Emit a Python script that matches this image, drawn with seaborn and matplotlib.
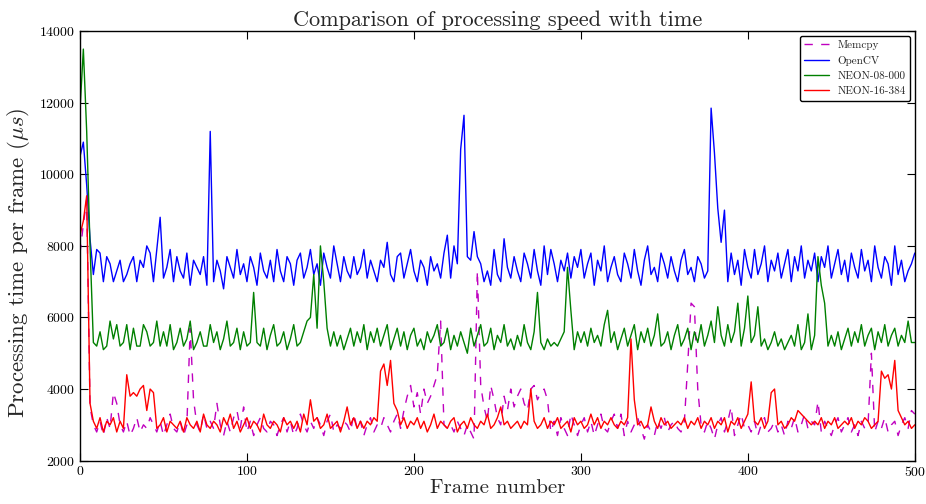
import numpy as np
import pandas as pd
import matplotlib
matplotlib.use("Agg")
import matplotlib.pyplot as plt
import seaborn as sns

# processing time per frame (us), sampled every 2 frames (0..500)
memcpy = [
    7800, 8600, 9300, 3500, 3000, 2800, 3100, 2700, 3200, 2900,
    3900, 3600, 3000, 2800, 3100, 2700, 2900, 3200, 2800, 3000,
    2900, 3200, 3000, 2800, 3100, 2700, 3000, 3300, 2900, 2800,
    3100, 2700, 3000, 5700, 3700, 3000, 2800, 3300, 2900, 3100,
    2900, 3600, 3000, 2700, 3100, 2800, 3200, 3400, 2900, 3500,
    2800, 3100, 2700, 3000, 3200, 2900, 2800, 3100, 3000, 2700,
    3000, 3200, 2800, 3100, 2700, 2900, 3300, 3000, 2800, 3100,
    2900, 3200, 3000, 2700, 3100, 3300, 2800, 3000, 2900, 3100,
    3000, 2800, 3300, 2900, 3100, 2700, 3000, 3200, 2800, 3000,
    2900, 3200, 3000, 2800, 3100, 3300, 2900, 3400, 3800, 4100,
    3500, 3900, 3300, 4000, 3600, 3800, 4100, 4400, 5900, 3000,
    2900, 3000, 2800, 3100, 2900, 2700, 3000, 2800, 2600, 7300,
    4100, 3500, 3100, 4100, 3700, 3200, 3000, 3800, 3400, 4000,
    3500, 3800, 4000, 3600, 3400, 4000, 4100, 3700, 3900, 4000,
    3700, 2800, 3100, 2700, 3200, 2900, 2700, 3300, 3000, 2700,
    3000, 3200, 2800, 3100, 2700, 3000, 3300, 2900, 2800, 3100,
    3300, 2900, 3300, 2700, 3100, 2800, 3000, 3200, 2900, 2600,
    3000, 2800, 2700, 3100, 2900, 3200, 2800, 3000, 3100, 2900,
    2800, 3100, 4700, 6400, 6300, 4000, 3000, 2800, 3100, 2900,
    2600, 3000, 3200, 2800, 3100, 3500, 2700, 3000, 3300, 2900,
    3000, 2800, 3100, 2700, 3000, 3200, 2800, 2900, 3100, 2800,
    3000, 2700, 3100, 2900, 3200, 2800, 3000, 3300, 2900, 3100,
    3000, 3650, 2800, 3100, 2900, 2700, 3000, 3200, 2800, 3000,
    3200, 2800, 3000, 2700, 3100, 2900, 3000, 5000, 2800, 3100,
    2900, 3200, 2800, 3000, 3100, 2700, 3000, 3200, 2900, 3400,
    3300,
]

opencv = [
    10500, 10900, 9700, 8200, 7200, 7900, 7800, 7000, 7700, 7500,
    7000, 7300, 7600, 7000, 7200, 7500, 7700, 7000, 7600, 7400,
    8000, 7800, 7000, 7900, 8800, 7100, 7400, 7900, 7000, 7700,
    7300, 7100, 7800, 6900, 7600, 7400, 7200, 7700, 6900, 11200,
    7000, 7600, 7300, 6800, 7700, 7400, 7100, 7900, 7200, 7500,
    7000, 7700, 7400, 6900, 7800, 7300, 7100, 7600, 7000, 7900,
    7300, 7000, 7700, 7500, 6900, 7600, 7800, 7100, 7400, 7900,
    7200, 7500, 6900, 7800, 7400, 7100, 8000, 7500, 7000, 7700,
    7300, 7100, 7700, 7200, 7400, 7900, 7100, 7600, 7300, 7000,
    7600, 7400, 8100, 7200, 7000, 7700, 7800, 7100, 7500, 7900,
    7300, 7000, 7600, 7400, 6900, 7700, 7300, 7500, 7100, 7800,
    8300, 7100, 8000, 7500, 10700, 11650, 7700, 7600, 8400, 7700,
    7500, 7000, 7300, 6900, 7900, 7200, 7000, 8200, 7400, 7100,
    7700, 7300, 7000, 7800, 7500, 7100, 7900, 7300, 6900, 8000,
    7200, 7900, 7500, 7000, 7600, 7300, 7800, 7100, 7700, 7400,
    7900, 7100, 7500, 7800, 6900, 7600, 7300, 8000, 7000, 7400,
    7700, 7200, 7000, 7800, 7500, 7100, 7900, 7300, 6900, 7600,
    8000, 7200, 7400, 7000, 7800, 7500, 7100, 7700, 7300, 7000,
    7600, 7900, 7200, 7400, 7000, 7700, 7500, 7100, 7300, 11850,
    10600, 9050, 8100, 9000, 7000, 7800, 7200, 7600, 6900, 7900,
    7400, 7100, 7900, 7200, 7500, 8000, 7000, 7600, 7300, 7800,
    7100, 7500, 7900, 7000, 7700, 7300, 8000, 7100, 7600, 7300,
    7800, 7000, 7700, 7400, 8000, 7100, 7500, 7900, 7200, 7600,
    7000, 7800, 7400, 7100, 7900, 7300, 7600, 7000, 8000, 7400,
    7100, 7700, 7500, 6900, 8000, 7200, 7600, 7000, 7300, 7500,
    7800,
]

neon_08 = [
    11800, 13500, 11200, 8000, 5300, 5200, 5600, 5100, 5200, 5900,
    5400, 5800, 5200, 5300, 5800, 5100, 5700, 5200, 5200, 5800,
    5600, 5200, 5300, 5900, 5200, 5600, 5200, 5800, 5100, 5300,
    5700, 5200, 5400, 5900, 5100, 5300, 5600, 5200, 5200, 5800,
    5300, 5600, 5100, 5400, 5900, 5200, 5300, 5700, 5100, 5600,
    5200, 5300, 6700, 5300, 5200, 5700, 5100, 5500, 5800, 5200,
    5300, 5600, 5100, 5400, 5800, 5200, 5300, 5600, 5900, 6000,
    7200, 5700, 8000, 7000, 5700, 5200, 5600, 5200, 5500, 5100,
    5400, 5700, 5200, 5600, 5300, 5800, 5100, 5600, 5300, 5700,
    5200, 5500, 5800, 5100, 5400, 5700, 5200, 5600, 5100, 5500,
    5700, 5200, 5400, 5100, 5600, 5300, 5500, 5800, 5200, 5300,
    5700, 5100, 5500, 5200, 5600, 5300, 5000, 5700, 5200, 5500,
    5800, 5200, 5300, 5700, 5100, 5500, 5300, 5800, 5200, 5400,
    5100, 5500, 5200, 5800, 5300, 5100, 5600, 6700, 5300, 5100,
    5400, 5200, 5300, 5200, 5400, 5600, 7400, 6200, 5100, 5600,
    5300, 5600, 5200, 5700, 5300, 5500, 5200, 5800, 6200, 5300,
    5600, 5100, 5400, 5700, 5200, 5500, 5800, 5100, 5600, 5300,
    5700, 5200, 5500, 6100, 5200, 5300, 5600, 5100, 5500, 5800,
    5200, 5400, 5700, 5100, 5600, 5300, 5800, 5200, 5500, 5900,
    5300, 6300, 5500, 5200, 5800, 5300, 5600, 6400, 5200, 5700,
    6600, 5300, 5500, 6300, 5200, 5400, 5100, 5300, 5600, 5200,
    5400, 5100, 5300, 5500, 5200, 5800, 5100, 5300, 6100, 5100,
    5500, 7700, 6900, 6400, 5200, 5500, 5200, 5600, 5100, 5400,
    5700, 5200, 5600, 5300, 5800, 5200, 5500, 5700, 5100, 5600,
    5300, 5800, 5200, 5500, 5700, 5200, 5500, 5300, 5900, 5300,
    5300,
]

neon_16 = [
    8300, 8700, 9400, 3600, 3100, 2900, 3200, 2800, 3100, 3000,
    3200, 2800, 3100, 2900, 4400, 3800, 3900, 3800, 4000, 4100,
    3400, 4000, 3900, 2900, 3000, 3200, 2800, 3100, 3000, 2900,
    3100, 2800, 3200, 3000, 2900, 3100, 2800, 3300, 3000, 2900,
    3100, 3000, 2800, 3200, 3000, 3300, 2900, 3100, 2800, 3000,
    3200, 2900, 3100, 3000, 2800, 3300, 3000, 2900, 3100, 3000,
    2800, 3200, 3000, 3100, 2900, 3100, 2800, 3300, 3000, 3700,
    3100, 3200, 2900, 3000, 3300, 2900, 3000, 3100, 2800, 3100,
    3500, 3000, 3200, 2900, 3100, 2900, 3100, 3000, 3200, 3100,
    4500, 4700, 4100, 4800, 3600, 3400, 3000, 3200, 2900, 3100,
    3000, 3200, 2900, 3100, 2800, 3000, 3300, 2900, 3100, 3000,
    2900, 3100, 3200, 2800, 3000, 3100, 2900, 3200, 3000, 2900,
    3100, 3000, 3300, 2900, 3000, 3200, 3500, 3000, 3100, 2900,
    3000, 3100, 2900, 3100, 3000, 4000, 3100, 2900, 3000, 3200,
    2900, 3100, 3000, 3200, 2900, 3000, 3100, 2800, 3200, 3000,
    3100, 2900, 3000, 3300, 3000, 3200, 2900, 3100, 3000, 3200,
    3000, 2900, 3100, 3000, 3200, 5400, 3700, 3000, 3100, 2900,
    3000, 3500, 3100, 2900, 3200, 3000, 3100, 2900, 3000, 3100,
    3000, 3200, 2900, 3100, 3000, 3200, 2900, 3100, 3000, 3200,
    2900, 3100, 3000, 3200, 2800, 3100, 3000, 3200, 2900, 3100,
    3300, 4200, 3100, 3000, 3200, 2900, 3100, 3900, 4000, 3000,
    3100, 2900, 3000, 3200, 3100, 3400, 3300, 3200, 3100, 3000,
    3100, 3000, 3200, 2900, 3100, 3000, 3200, 2900, 3000, 3100,
    3000, 3200, 2900, 3100, 3000, 3200, 3100, 2900, 3000, 3100,
    4500, 4300, 4400, 4000, 4800, 3400, 3200, 3000, 3100, 2900,
    3000,
]

series_names = ["Memcpy", "OpenCV", "NEON-08-000", "NEON-16-384"]
series_values = [memcpy, opencv, neon_08, neon_16]
colors = ["#bf00bf", "#0000ff", "#008000", "#ff0000"]
styles = ["--", "-", "-", "-"]

sns.set_style("ticks")
plt.rcParams["font.family"] = ["cmr10", "DejaVu Serif"]
plt.rcParams["mathtext.fontset"] = "cm"
plt.rcParams["axes.formatter.use_mathtext"] = True
plt.rcParams["xtick.direction"] = "in"
plt.rcParams["ytick.direction"] = "in"
plt.rcParams["xtick.top"] = True
plt.rcParams["ytick.right"] = True
plt.rcParams["lines.dashed_pattern"] = [6, 6]

fig = plt.figure(figsize=(9.26, 5.04), dpi=100)
ax = fig.add_axes([0.0864, 0.0861, 0.9015, 0.852])

for name, vals, c, ls in zip(series_names, series_values, colors, styles):
    df = pd.DataFrame({"frame": np.arange(len(vals)) * 2, "time": vals})
    sns.lineplot(data=df, x="frame", y="time", color=c, linestyle=ls,
                 linewidth=1.0, label=name, ax=ax)

ax.set_xlim(0, 500)
ax.set_ylim(2000, 14000)
ax.set_xticks(range(0, 501, 100))
ax.set_yticks(range(2000, 14001, 2000))
ax.tick_params(labelsize=10, length=6, width=0.8, colors="black")
for s in ax.spines.values():
    s.set_color("black")
    s.set_linewidth(1.0)

ax.set_title("Comparison of processing speed with time", fontsize=16, pad=4)
ax.set_xlabel("Frame number", fontsize=15, labelpad=0)
ax.set_ylabel(r"Processing time per frame ($\mu s$)", fontsize=16.5)
ax.yaxis.set_label_coords(-0.057, 0.46)

leg = ax.legend(loc="upper right", fontsize=8, fancybox=True, framealpha=1,
                borderaxespad=0.4, handlelength=2.2)
leg.get_frame().set_edgecolor("black")

fig.savefig("out.png", dpi=100)
